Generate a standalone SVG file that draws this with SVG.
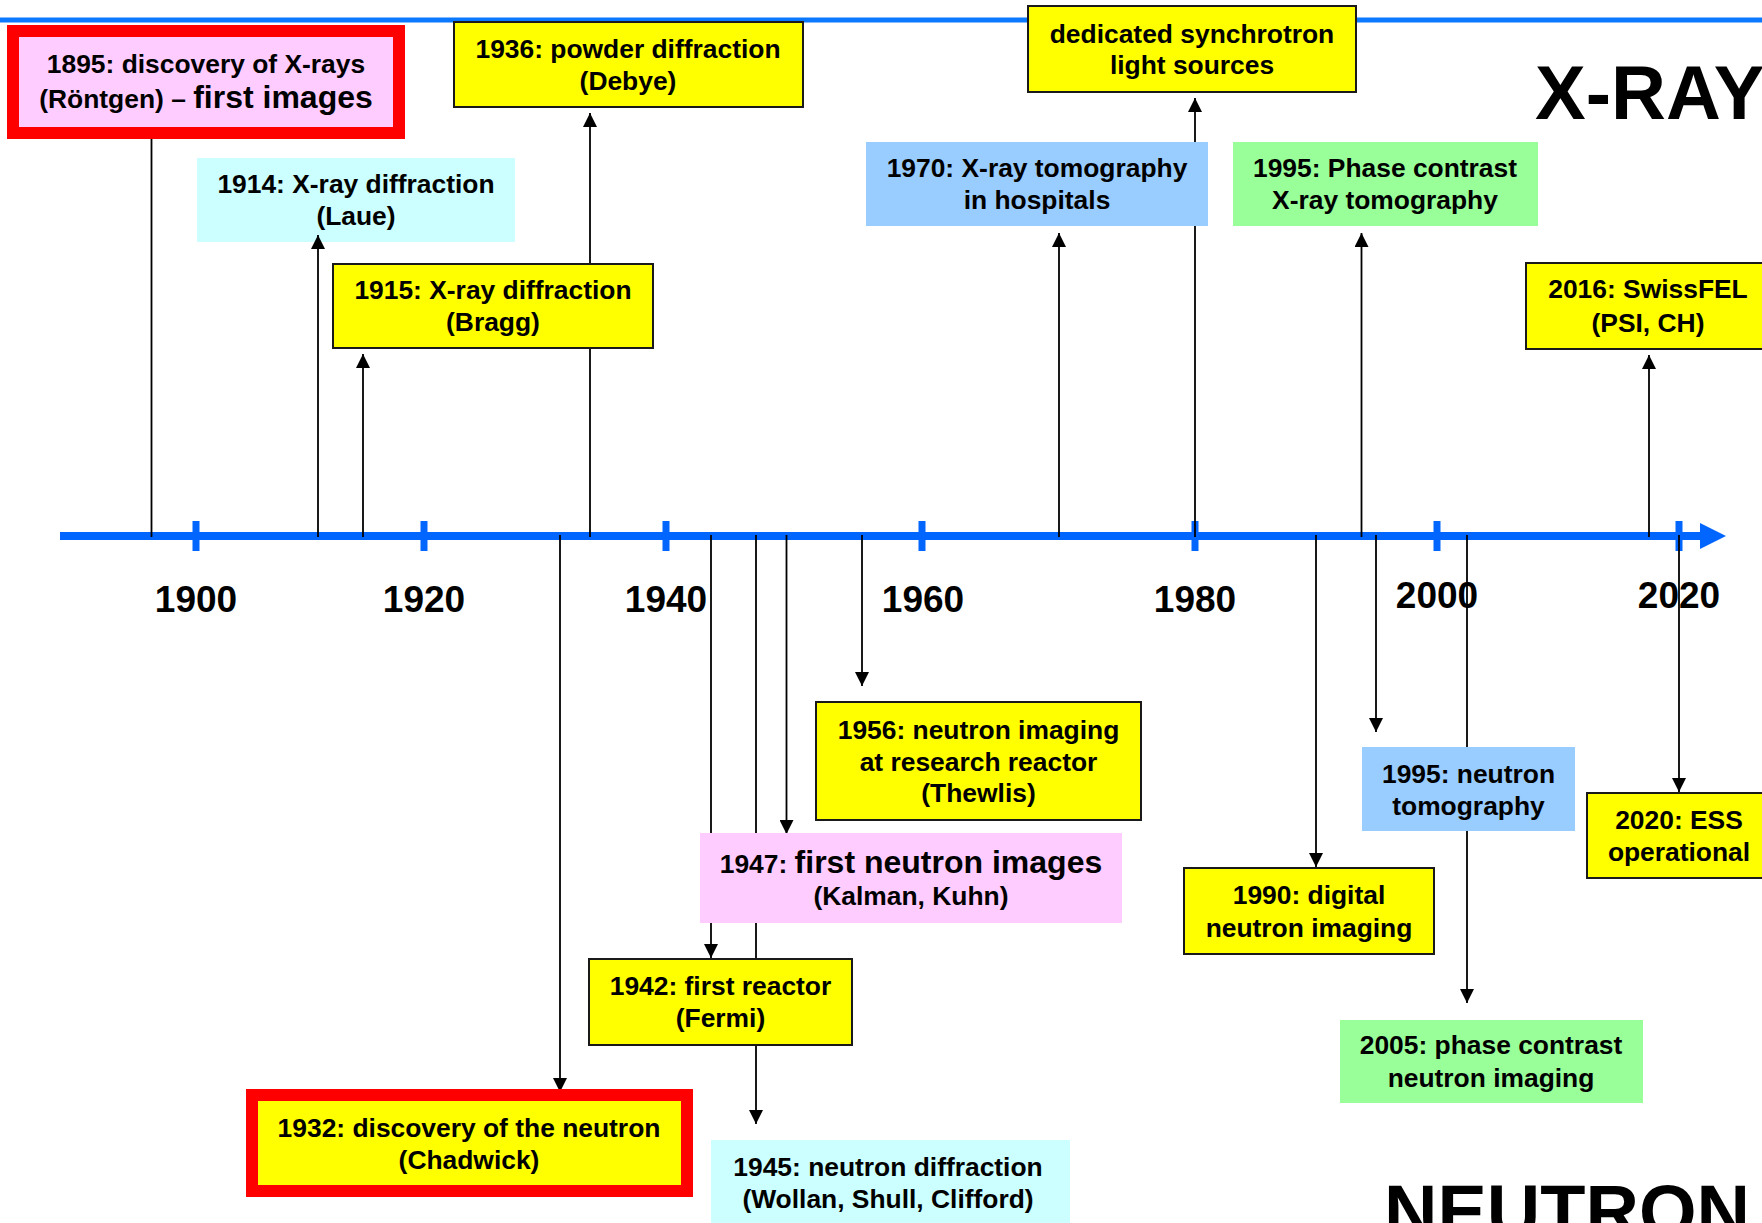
<svg xmlns="http://www.w3.org/2000/svg" width="1762" height="1223" viewBox="0 0 1762 1223">
<defs>
<style>
text{font-family:"Liberation Sans",Arial,sans-serif;font-weight:bold;fill:#000;text-anchor:middle}
.t{font-size:26.4px}
.big{font-size:32px}
.yr{font-size:37px}
.huge{font-size:76px;text-anchor:start}
.yel{fill:#FFFF00;stroke:#1a1a1a;stroke-width:2}
.red{fill:#FFFF00;stroke:#FF0000;stroke-width:12}
.redp{fill:#FFCCFF;stroke:#FF0000;stroke-width:12}
.pink{fill:#FFCCFF}
.cyan{fill:#CCFFFF}
.lblue{fill:#99CCFF}
.lgreen{fill:#99FF99}
.c{stroke:#000;stroke-width:1.8;fill:none}
.a{marker-end:url(#ah)}
.axis{fill:#0066FF}
</style>
<marker id="ah" markerWidth="14" markerHeight="14" refX="14" refY="7" orient="auto" markerUnits="userSpaceOnUse">
<path d="M0,0 L14,7 L0,14 z" fill="#000"/>
</marker>
</defs>
<rect width="1762" height="1223" fill="#fff"/>
<line x1="0" y1="20" x2="1762" y2="20" stroke="#0A78FF" stroke-width="5"/>

<g id="timeline">
<rect class="axis" x="60" y="532" width="1642" height="8"/>
<polygon class="axis" points="1700,523 1726,536 1700,549"/>
<rect class="axis" x="192.5" y="521" width="7" height="30"/>
<rect class="axis" x="420.5" y="521" width="7" height="30"/>
<rect class="axis" x="662.5" y="521" width="7" height="30"/>
<rect class="axis" x="918.5" y="521" width="7" height="30"/>
<rect class="axis" x="1191.5" y="521" width="7" height="30"/>
<rect class="axis" x="1433.5" y="521" width="7" height="30"/>
<rect class="axis" x="1675.5" y="521" width="7" height="30"/>
<text class="yr" x="196" y="612">1900</text>
<text class="yr" x="424" y="612">1920</text>
<text class="yr" x="666" y="612">1940</text>
<text class="yr" x="923" y="612">1960</text>
<text class="yr" x="1195" y="612">1980</text>
<text class="yr" x="1437" y="608">2000</text>
<text class="yr" x="1679" y="608">2020</text>
</g>

<g id="n1914">
<rect class="cyan" x="197" y="158" width="318" height="84"/>
<text class="t" x="356" y="193">1914: X-ray diffraction</text>
<text class="t" x="356" y="225">(Laue)</text>
</g>

<g id="connectors">
<line class="c" x1="151.5" y1="537" x2="151.5" y2="139"/>
<line class="c a" x1="318" y1="537" x2="318" y2="235"/>
<line class="c a" x1="363" y1="537" x2="363" y2="354"/>
<line class="c a" x1="590" y1="537" x2="590" y2="113"/>
<line class="c a" x1="1059" y1="537" x2="1059" y2="233"/>
<line class="c a" x1="1195" y1="537" x2="1195" y2="98"/>
<line class="c a" x1="1361.5" y1="537" x2="1361.5" y2="233"/>
<line class="c a" x1="1649" y1="537" x2="1649" y2="355"/>
<line class="c a" x1="560" y1="535" x2="560" y2="1092"/>
<line class="c a" x1="711" y1="535" x2="711" y2="958"/>
<line class="c a" x1="756" y1="535" x2="756" y2="1124"/>
<line class="c a" x1="786.5" y1="535" x2="786.5" y2="834"/>
<line class="c a" x1="862" y1="535" x2="862" y2="686"/>
<line class="c a" x1="1316" y1="535" x2="1316" y2="867"/>
<line class="c a" x1="1376" y1="535" x2="1376" y2="732"/>
<line class="c a" x1="1467" y1="535" x2="1467" y2="1003"/>
<line class="c a" x1="1679" y1="535" x2="1679" y2="792"/>
</g>

<g id="n1895">
<rect class="redp" x="13" y="31" width="386" height="102"/>
<text class="t" x="206" y="73">1895: discovery of X-rays</text>
<text x="206" y="108"><tspan class="t">(Röntgen) – </tspan><tspan class="big">first images</tspan></text>
</g>
<g id="n1915">
<rect class="yel" x="333" y="264" width="320" height="84"/>
<text class="t" x="493" y="299">1915: X-ray diffraction</text>
<text class="t" x="493" y="331">(Bragg)</text>
</g>
<g id="n1936">
<rect class="yel" x="454" y="22" width="349" height="85"/>
<text class="t" x="628" y="58">1936: powder diffraction</text>
<text class="t" x="628" y="90">(Debye)</text>
</g>
<g id="nsync">
<rect class="yel" x="1028" y="6" width="328" height="86"/>
<text class="t" x="1192" y="43">dedicated synchrotron</text>
<text class="t" x="1192" y="74">light sources</text>
</g>
<g id="n1970">
<rect class="lblue" x="866" y="142" width="342" height="84"/>
<text class="t" x="1037" y="177">1970: X-ray tomography</text>
<text class="t" x="1037" y="209">in hospitals</text>
</g>
<g id="n1995x">
<rect class="lgreen" x="1233" y="142" width="305" height="84"/>
<text class="t" x="1385" y="177">1995: Phase contrast</text>
<text class="t" x="1385" y="209">X-ray tomography</text>
</g>
<g id="n2016">
<rect class="yel" x="1526" y="263" width="246" height="86"/>
<text class="t" x="1648" y="298">2016: SwissFEL</text>
<text class="t" x="1648" y="332">(PSI, CH)</text>
</g>
<g id="xray">
<text class="huge" x="1535" y="119">X-RAY</text>
</g>

<g id="n1956">
<rect class="yel" x="816" y="702" width="325" height="118"/>
<text class="t" x="978.5" y="739">1956: neutron imaging</text>
<text class="t" x="978.5" y="771">at research reactor</text>
<text class="t" x="978.5" y="802">(Thewlis)</text>
</g>
<g id="n1947">
<rect class="pink" x="700" y="833" width="422" height="90"/>
<text x="911" y="873"><tspan class="t">1947: </tspan><tspan class="big">first neutron images</tspan></text>
<text class="t" x="911" y="905">(Kalman, Kuhn)</text>
</g>
<g id="n1942">
<rect class="yel" x="589" y="959" width="263" height="86"/>
<text class="t" x="720.5" y="995">1942: first reactor</text>
<text class="t" x="720.5" y="1027">(Fermi)</text>
</g>
<g id="n1932">
<rect class="red" x="252" y="1095" width="435" height="96"/>
<text class="t" x="469" y="1137">1932: discovery of the neutron</text>
<text class="t" x="469" y="1169">(Chadwick)</text>
</g>
<g id="n1945">
<rect class="cyan" x="711" y="1140" width="359" height="83"/>
<text class="t" x="888" y="1176">1945: neutron diffraction</text>
<text class="t" x="888" y="1208">(Wollan, Shull, Clifford)</text>
</g>
<g id="n1990">
<rect class="yel" x="1184" y="868" width="250" height="86"/>
<text class="t" x="1309" y="904">1990: digital</text>
<text class="t" x="1309" y="937">neutron imaging</text>
</g>
<g id="n1995n">
<rect class="lblue" x="1362" y="747" width="213" height="84"/>
<text class="t" x="1468.5" y="783">1995: neutron</text>
<text class="t" x="1468.5" y="815">tomography</text>
</g>
<g id="n2020">
<rect class="yel" x="1587" y="793" width="184" height="85"/>
<text class="t" x="1679" y="829">2020: ESS</text>
<text class="t" x="1679" y="861">operational</text>
</g>
<g id="n2005">
<rect class="lgreen" x="1340" y="1020" width="303" height="83"/>
<text class="t" x="1491" y="1054">2005: phase contrast</text>
<text class="t" x="1491" y="1087">neutron imaging</text>
</g>
<g id="neutron">
<text class="huge" x="1384" y="1237" style="font-size:74px">NEUTRON</text>
</g>
</svg>
